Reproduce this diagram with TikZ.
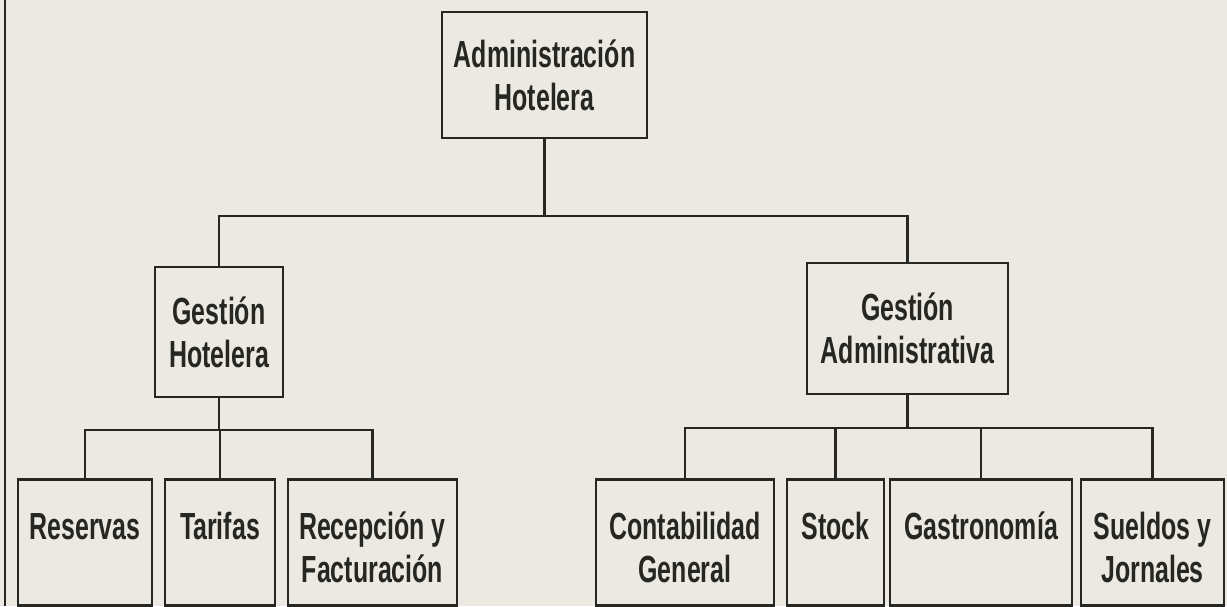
\documentclass[tikz,border=0pt]{standalone}
\usepackage{fontspec}
\setmainfont{Liberation Sans}[FakeStretch=0.66]
\definecolor{papel}{RGB}{235,233,226}
\definecolor{tinta}{RGB}{38,38,34}

\begin{document}
\begin{tikzpicture}[x=0.02cm, y=-0.02cm,
  caja/.style={draw=tinta, line width=1.6pt, fill=papel, align=center,
    inner sep=0pt, text=tinta, font=\bfseries\fontsize{21.5}{24.5}\selectfont},
  hoja/.style={caja, anchor=north, text height=1.2cm, text depth=1.32cm},
  linea/.style={draw=tinta, line width=1.2pt}]

% fondo del papel
\useasboundingbox (0,0) rectangle (1227,606);
\clip (0,0) rectangle (1227,606);
\fill[papel] (0,0) rectangle (1227,606);
\draw[tinta, line width=1.4pt] (5,0) -- (5,606);

% nivel superior
\node[caja, minimum width=4.1cm, minimum height=2.52cm] (adm) at (544.5,75) {Administración\\Hotelera};

% segundo nivel
\node[caja, minimum width=2.56cm, minimum height=2.6cm] (gh) at (219,332) {Gestión\\Hotelera};
\node[caja, minimum width=4.02cm, minimum height=2.62cm] (ga) at (907.5,328.5) {Gestión\\Administrativa};

% tercer nivel (cajas abiertas por abajo)
\node[hoja, text width=2.68cm] (res) at (85,478) {Reservas};
\node[hoja, text width=2.2cm] (tar) at (220,478) {Tarifas};
\node[hoja, text width=3.38cm] (rec) at (372.5,478) {Recepción\hspace{0.18em}y\\Facturación};
\node[hoja, text width=3.56cm] (con) at (685,478) {Contabilidad\\General};
\node[hoja, text width=1.94cm] (stk) at (835.5,478) {Stock};
\node[hoja, text width=3.64cm] (gas) at (981,478) {Gastronomía};
\node[hoja, text width=2.86cm] (sue) at (1152.5,478) {Sueldos\hspace{0.18em}y\\Jornales};

% conectores
\draw[linea] (adm.south) -- ++(0,77) coordinate (b1);
\draw[linea] (gh.north) |- (b1) -| (ga.north);

\draw[linea] (gh.south) -- ++(0,32) coordinate (b2);
\draw[linea] (res.north) |- (b2) -| (rec.north);
\draw[linea] (tar.north) -- (tar.north |- b2);

\draw[linea] (ga.south) -- ++(0,33) coordinate (b3);
\draw[linea] (con.north) |- (b3) -| (sue.north);
\draw[linea] (stk.north) -- (stk.north |- b3);
\draw[linea] (gas.north) -- (gas.north |- b3);
\end{tikzpicture}
\end{document}
